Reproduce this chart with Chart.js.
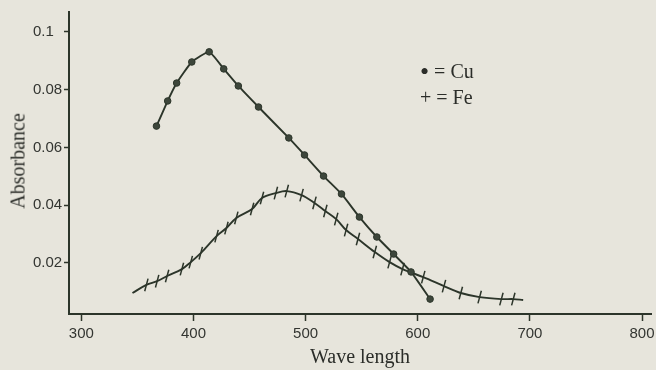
<!DOCTYPE html>
<html>
<head>
<meta charset="utf-8">
<script src="https://cdn.jsdelivr.net/npm/chart.js@4.4.1/dist/chart.umd.min.js"></script>
<style>
  html, body { margin: 0; padding: 0; background: #e7e5dc; }
  #wrap { position: relative; width: 656px; height: 370px; }
  #wrap canvas { position: absolute; left: 0; top: 0; }
  .ytitle {
    position: absolute; left: 18px; top: 161px;
    transform: translate(-50%, -50%) rotate(-90deg);
    font: 20px 'Liberation Serif', serif; color: #2b2d29; white-space: nowrap;
  }
  .key { position: absolute; left: 420px; font: 20px 'Liberation Serif', serif; color: #2b2d29; white-space: nowrap; }
  .key b { font-weight: normal; font-size: 26px; line-height: 0; position: relative; top: 2px; }
</style>
</head>
<body>
<div id="wrap">
  <canvas id="c" width="656" height="370"></canvas>
  <div class="ytitle">Absorbance</div>
  <div class="key" style="top:60px"><b>&bull;</b> = Cu</div>
  <div class="key" style="top:86px">+ = Fe</div>
</div>
<script>
// ── 資料(從圖上讀出的估計值)──
const X_TICKS = [300, 400, 500, 600, 700, 800];
const Y_TICKS = [0.02, 0.04, 0.06, 0.08, 0.1];
const Y_LABELS = ['0.02', '0.04', '0.06', '0.08', '0.1'];

// Cu(圓點)
const CU_WL  = [367, 377, 385, 398.5, 414, 427, 440, 458, 485, 499, 516, 532, 548, 563.5, 578.5, 594, 611];
const CU_ABS = [0.0674, 0.0761, 0.0823, 0.0896, 0.0931, 0.0872, 0.0813, 0.0740, 0.0633, 0.0574, 0.0501, 0.0439, 0.0359, 0.0290, 0.0231, 0.0169, 0.0075];

// Fe(短斜線記號);頭尾兩點只是線的端點
const FE_WL  = [345.6, 358, 367.6, 376.5, 389.7, 397.6, 406.5, 420.6, 429.4, 438.2, 452.3, 461.1, 473.5, 483.2, 496.4, 507.9,
                517.6, 527.3, 536.1, 546.7, 561.7, 574.9, 586.4, 604.9, 623.4, 638.4, 655.2, 674.6, 685.2, 694];
const FE_ABS = [0.0096, 0.0124, 0.0137, 0.0155, 0.0179, 0.0203, 0.0234, 0.0293, 0.0321, 0.0356, 0.0387, 0.0425, 0.0442, 0.0449, 0.0435, 0.0408,
                0.0380, 0.0352, 0.0314, 0.0283, 0.0238, 0.0203, 0.0179, 0.0151, 0.0120, 0.0096, 0.0082, 0.0075, 0.0075, 0.0072];

const INK = '#2c352a';
const TXT = '#333531';

const cu = CU_WL.map((x, i) => ({ x, y: CU_ABS[i] }));
const fe = FE_WL.map((x, i) => ({ x, y: FE_ABS[i] }));
const feRadius = fe.map((_, i) => (i === 0 || i === fe.length - 1 ? 0 : 6.5));

new Chart(document.getElementById('c'), {
  type: 'line',
  data: {
    datasets: [
      {
        label: 'Cu', data: cu, borderColor: INK, borderWidth: 1.9, tension: 0.15,
        pointRadius: 3.3, pointBackgroundColor: '#3d463b', pointBorderColor: INK, pointBorderWidth: 1,
      },
      {
        label: 'Fe', data: fe, borderColor: INK, borderWidth: 1.9, tension: 0.35,
        pointStyle: 'line', pointRotation: 105, pointRadius: feRadius,
        pointBorderColor: INK, pointBorderWidth: 1.5,
      },
    ],
  },
  options: {
    responsive: false, animation: false,
    layout: { padding: { left: 33, top: 12, right: 0, bottom: 0 } },
    plugins: { legend: { display: false }, tooltip: { enabled: false } },
    scales: {
      x: {
        type: 'linear', min: 289, max: 808,
        afterBuildTicks: (s) => { s.ticks = X_TICKS.map((v) => ({ value: v })); },
        afterFit: (s) => { s.height = 56; s.paddingRight = 0; },   // 軸線畫到右緣
        grid: { drawOnChartArea: false, drawTicks: true, tickLength: 7, tickColor: INK, tickWidth: 1.5 },
        border: { display: true, color: INK, width: 2 },
        ticks: { color: TXT, font: { family: 'Liberation Sans', size: 15 }, padding: 4, maxRotation: 0 },
        title: {
          display: true, text: 'Wave length', color: '#2b2d29',
          font: { family: 'Liberation Serif', size: 20 }, padding: { top: 0, bottom: 0 },
        },
      },
      y: {
        min: 0.00234, max: 0.1069,
        afterBuildTicks: (s) => { s.ticks = Y_TICKS.map((v) => ({ value: v })); },
        afterFit: (s) => { s.width = 36; },
        grid: { drawOnChartArea: false, drawTicks: true, tickLength: 5, tickColor: INK, tickWidth: 1.5 },
        border: { display: true, color: INK, width: 2 },
        ticks: {
          color: TXT, font: { family: 'Liberation Sans', size: 15 }, crossAlign: 'far',
          callback: (v) => Y_LABELS[Y_TICKS.indexOf(v)] ?? '',
        },
      },
    },
  },
});
</script>
</body>
</html>
